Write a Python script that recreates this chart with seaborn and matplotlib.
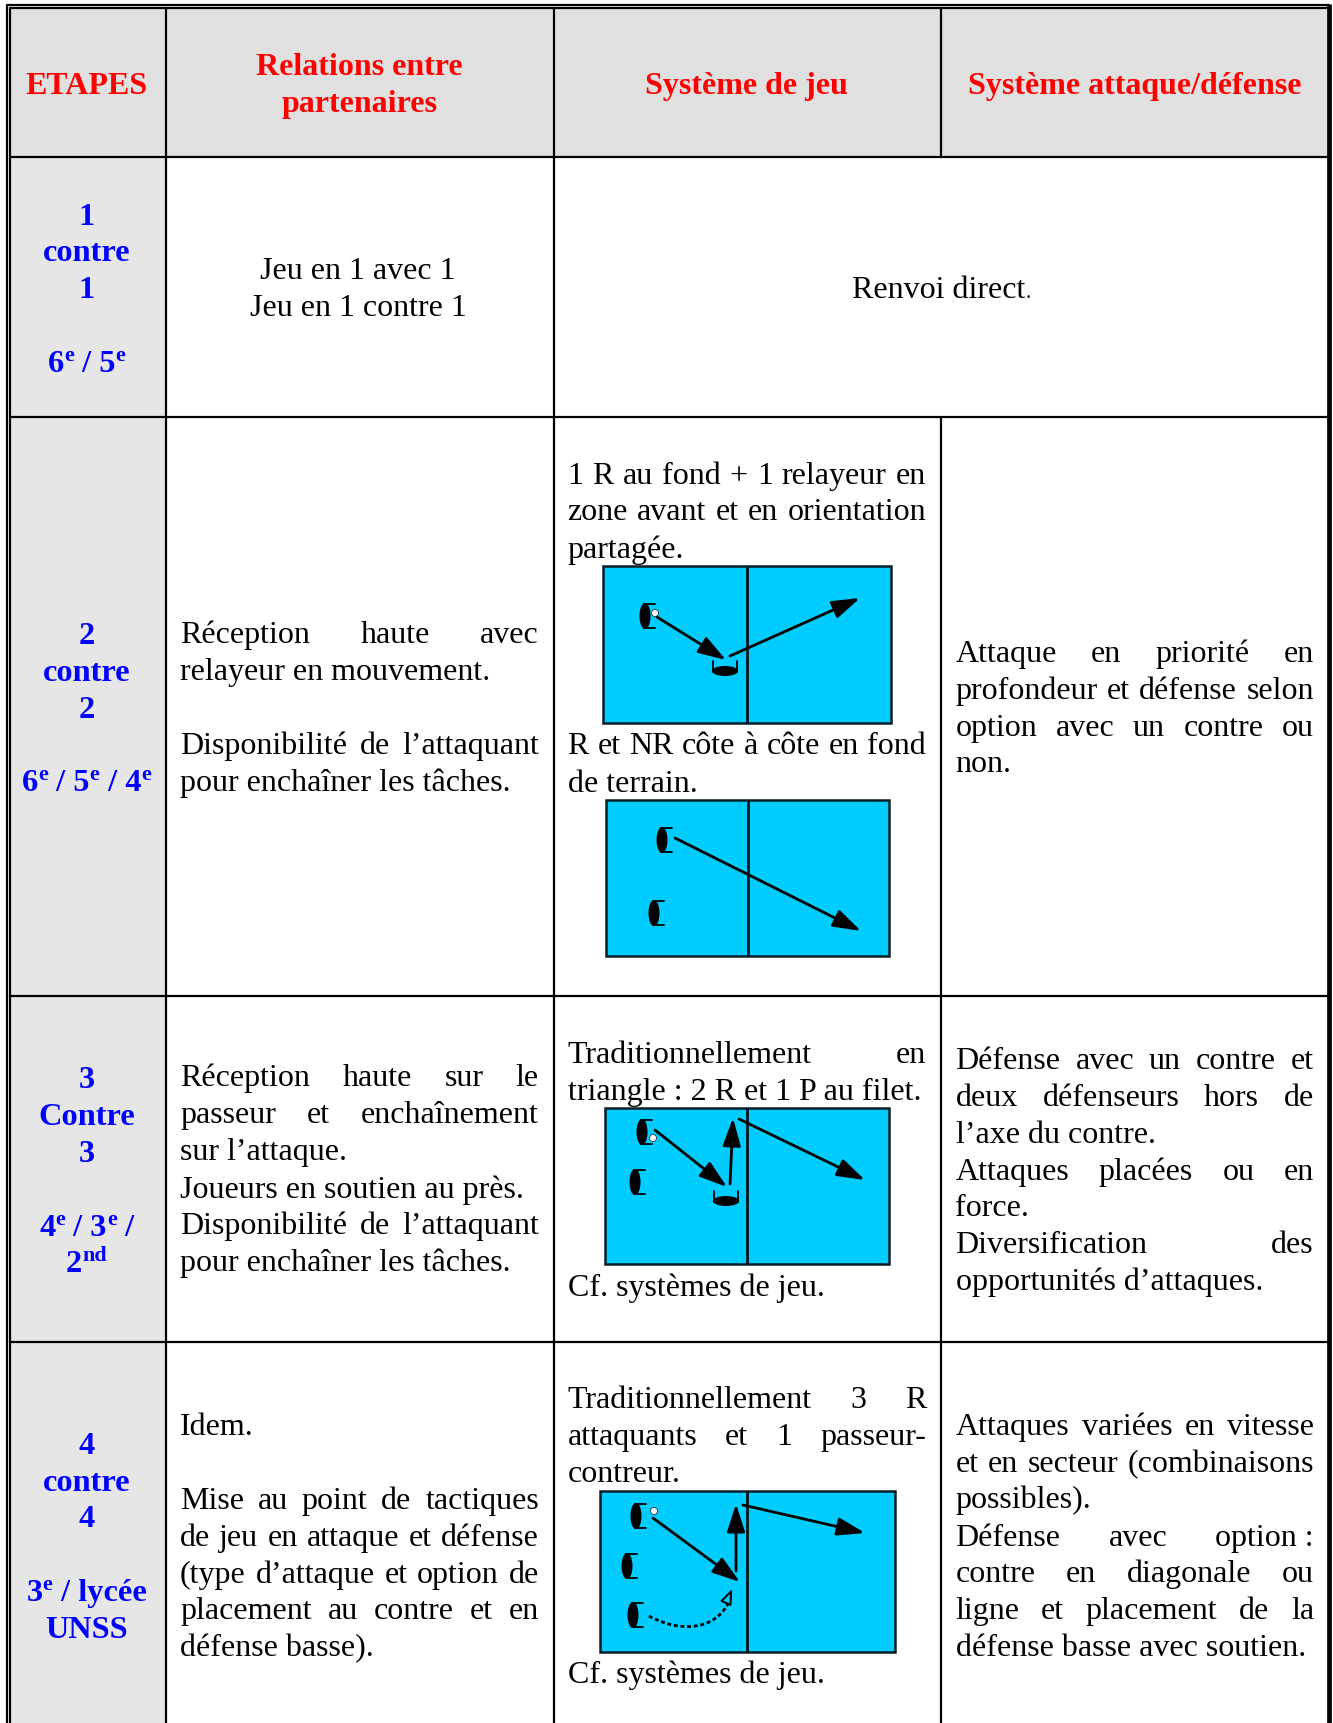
import matplotlib
matplotlib.use("Agg")
import matplotlib.pyplot as plt
from matplotlib.patches import Rectangle, Ellipse, FancyArrowPatch, PathPatch
from matplotlib.path import Path
import pandas as pd
import seaborn as sns

sns.set_theme(style="white")
plt.rcParams["font.family"] = ["Liberation Serif", "DejaVu Serif"]

W, H = 1333, 1724

# ---- table texts ----
HEADERS = ["ETAPES", "Relations entre", "partenaires", "Système de jeu", "Système attaque/défense"]
ROW_1_STAGE = ["1", "contre", "1"]
ROW_2_STAGE = ["2", "contre", "2"]
ROW_3_STAGE = ["3", "Contre", "3"]
ROW_4_STAGE = ["4", "contre", "4"]
ROW_4_STAGE_EXTRA = "UNSS"
LEVEL_1 = [("6", "e"), (" / 5", "e")]
LEVEL_2 = [("6", "e"), (" / 5", "e"), (" / 4", "e")]
LEVEL_3A = [("4", "e"), (" / 3", "e"), (" /", "")]
LEVEL_3B = [("2", "nd")]
LEVEL_4 = [("3", "e"), (" / lycée", "")]
REL_1 = ["Jeu en 1 avec 1", "Jeu en 1 contre 1"]
REL_2 = [("Réception haute avec", True), ("relayeur en mouvement.", False),
         ("Disponibilité de l’attaquant", True), ("pour enchaîner les tâches.", False)]
REL_3 = [("Réception haute sur le", True), ("passeur et enchaînement", True),
         ("sur l’attaque.", False), ("Joueurs en soutien au près.", False),
         ("Disponibilité de l’attaquant", True), ("pour enchaîner les tâches.", False)]
REL_4 = [("Idem.", False), ("Mise au point de tactiques", True),
         ("de jeu en attaque et défense", True), ("(type d’attaque et option de", True),
         ("placement au contre et en", True), ("défense basse).", False)]
SYS_SPAN = "Renvoi direct"
SYS_2A = [("1 R au fond + 1 relayeur en", True), ("zone avant et en orientation", True), ("partagée.", False)]
SYS_2B = [("R et NR côte à côte en fond", True), ("de terrain.", False)]
SYS_3 = [("Traditionnellement en", True), ("triangle : 2 R et 1 P au filet.", False), ("Cf. systèmes de jeu.", False)]
SYS_4 = [("Traditionnellement 3 R", True), ("attaquants et 1 passeur-", True),
         ("contreur.", False), ("Cf. systèmes de jeu.", False)]
ATT_2 = [("Attaque en priorité en", True), ("profondeur et défense selon", True),
         ("option avec un contre ou", True), ("non.", False)]
ATT_3 = [("Défense avec un contre et", True), ("deux défenseurs hors de", True),
         ("l’axe du contre.", False), ("Attaques placées ou en", True), ("force.", False),
         ("Diversification des", True), ("opportunités d’attaques.", False)]
ATT_4 = [("Attaques variées en vitesse", True), ("et en secteur (combinaisons", True),
         ("possibles).", False), ("Défense avec option\u00a0:", True),
         ("contre en diagonale ou", True), ("ligne et placement de la", True),
         ("défense basse avec soutien.", False)]

# ---- court diagrams, in picture pixels ----
COURTS = [(603, 567, 891, 724, 747), (606, 801, 889, 957, 748),
          (605, 1109, 889, 1265, 747), (600, 1492, 895, 1653, 747)]
PLAYERS = [(645, 617, "r"), (725, 672, "u"), (662, 841, "r"), (654, 914, "r"),
           (642, 1133, "r"), (635, 1183, "r"), (726, 1202, "u"),
           (636, 1517, "r"), (627, 1567, "r"), (633, 1616, "r")]
BALLS = [(655, 614), (653, 1139), (654, 1512)]
ARROWS = [(657, 618, 726, 661), (730, 657, 860, 599), (675, 839, 861, 932),
          (655, 1131, 727, 1188), (730, 1185, 733, 1119), (739, 1120, 865, 1181),
          (653, 1519, 740, 1583), (736, 1572, 736, 1505), (743, 1506, 865, 1534)]
DOTTED_X = [649, 685, 722, 731]
DOTTED_Y = [1617, 1637, 1628, 1597]

# ---- table geometry ----
COL_X = [166, 554, 941]
ROW_Y = [157.5, 417.5, 996.5, 1342.5]
LEFT_OUT, LEFT_IN, RIGHT_IN, TOP_OUT, TOP_IN = 6.5, 9.5, 1329, 6, 9

fig = plt.figure(figsize=(W / 100, H / 100), dpi=100)
ax = fig.add_axes([0, 0, 1, 1])
ax.set_xlim(0, W)
ax.set_ylim(H, 0)
ax.axis("off")

ax.add_patch(Rectangle((LEFT_IN, TOP_IN), COL_X[0] - LEFT_IN, H, fc="#E6E6E6", ec="none", zorder=0))
ax.add_patch(Rectangle((LEFT_IN, TOP_IN), RIGHT_IN - LEFT_IN, ROW_Y[0] - TOP_IN, fc="#E0E0E0", ec="none", zorder=0))

rules = [(LEFT_OUT, TOP_OUT, LEFT_OUT, H), (LEFT_IN, TOP_IN, LEFT_IN, H),
         (LEFT_OUT, TOP_OUT, RIGHT_IN, TOP_OUT), (LEFT_IN, TOP_IN, RIGHT_IN, TOP_IN),
         (COL_X[0], TOP_IN, COL_X[0], H), (COL_X[1], TOP_IN, COL_X[1], H),
         (COL_X[2], TOP_IN, COL_X[2], ROW_Y[0]), (COL_X[2], ROW_Y[1], COL_X[2], H)]
for yy in ROW_Y:
    rules.append((LEFT_IN, yy, RIGHT_IN, yy))
frame = pd.DataFrame(
    [{"x": a, "y": b, "rule": i} for i, r in enumerate(rules) for a, b in (r[:2], r[2:])]
)
sns.lineplot(data=frame, x="x", y="y", units="rule", estimator=None, sort=False,
             color="black", lw=1.6, ax=ax, legend=False, zorder=2)
ax.plot([RIGHT_IN, RIGHT_IN], [TOP_IN - 4, H], color="black", lw=3.4, zorder=2, solid_capstyle="butt")
ax.set_xlim(0, W)
ax.set_ylim(H, 0)
ax.axis("off")

renderer = fig.canvas.get_renderer()
BODY = 23
BOLD = 23.3


def width(s, size, weight="normal"):
    t = ax.text(0, 0, s, fontsize=size, fontweight=weight)
    w = t.get_window_extent(renderer).width
    t.remove()
    return w


def centred(s, x, y, color="black", weight="normal", size=BODY):
    ax.text(x, y, s, ha="center", va="baseline", color=color, fontweight=weight, fontsize=size, zorder=5)


def line(s, justified, x0, x1, y):
    if not justified:
        ax.text(x0, y, s, ha="left", va="baseline", color="black", fontsize=BODY, zorder=5)
        return
    words = s.split(" ")
    total = sum(width(w, BODY) for w in words)
    gap = (x1 - x0 - total) / (len(words) - 1)
    x = x0
    for w in words:
        ax.text(x, y, w, ha="left", va="baseline", color="black", fontsize=BODY, zorder=5)
        x += width(w, BODY) + gap


def block(lines, ys, x0, x1):
    for (s, j), y in zip(lines, ys):
        line(s, j, x0, x1, y)


def level(runs, xc, y):
    sup = BOLD * 0.68
    total = 0
    for a, b in runs:
        total += width("|" + a + "|", BOLD, "bold") - width("||", BOLD, "bold")
        if b:
            total += width(b, sup, "bold")
    x = xc - total / 2
    for a, b in runs:
        ax.text(x, y, a, ha="left", va="baseline", color="#0000FF", fontweight="bold", fontsize=BOLD, zorder=5)
        x += width("|" + a + "|", BOLD, "bold") - width("||", BOLD, "bold")
        if b:
            ax.text(x, y - 11, b, ha="left", va="baseline", color="#0000FF", fontweight="bold", fontsize=sup, zorder=5)
            x += width(b, sup, "bold")


# headers
RED = "#FF0000"
BLUE = "#0000FF"
centred(HEADERS[0], 86.5, 94, RED, "bold")
centred(HEADERS[1], 359.5, 75, RED, "bold", 23)
centred(HEADERS[2], 359.5, 112, RED, "bold", 23)
centred(HEADERS[3], 746.5, 94, RED, "bold", 23)
centred(HEADERS[4], 1134.5, 94, RED, "bold", 23)

# stage column
SX = 86.5
for s, y in zip(ROW_1_STAGE, (225, 261, 298)):
    centred(s, SX, y, BLUE, "bold", BOLD)
level(LEVEL_1, SX, 372)
for s, y in zip(ROW_2_STAGE, (644, 681, 718)):
    centred(s, SX, y, BLUE, "bold", BOLD)
level(LEVEL_2, SX, 791)
for s, y in zip(ROW_3_STAGE, (1088, 1125, 1162)):
    centred(s, SX, y, BLUE, "bold", BOLD)
level(LEVEL_3A, SX, 1236)
level(LEVEL_3B, SX, 1272)
for s, y in zip(ROW_4_STAGE, (1454, 1491, 1527)):
    centred(s, SX, y, BLUE, "bold", BOLD)
level(LEVEL_4, SX, 1601)
centred(ROW_4_STAGE_EXTRA, SX, 1638, BLUE, "bold", BOLD)

# relation column
centred(REL_1[0], 358, 279)
centred(REL_1[1], 358, 316)
block(REL_2, (643, 680, 754, 791), 180, 539)
block(REL_3, (1086.5, 1123.5, 1160.5, 1198, 1234.5, 1271.5), 180, 539)
block(REL_4, (1435, 1509, 1546, 1583, 1619, 1656), 180, 539)

# system column
span_w = width(SYS_SPAN, BODY)
centred(SYS_SPAN, 939, 298)
ax.text(939 + span_w / 2, 298, ".", ha="left", va="baseline", color="black", fontsize=15, zorder=5)
block(SYS_2A, (484, 520, 558), 567.5, 926)
block(SYS_2B, (754, 792), 567.5, 926)
block(SYS_3, (1063, 1100, 1296), 567.5, 926)
block(SYS_4, (1408, 1445, 1482, 1683), 567.5, 926)

# attack / defence column
block(ATT_2, (662, 699, 736, 772), 955.5, 1314)
block(ATT_3, (1069, 1106, 1143.5, 1180.5, 1216.5, 1253, 1290), 955.5, 1314)
block(ATT_4, (1435, 1472, 1508, 1546, 1582, 1619, 1656), 955.5, 1314)

# courts
COURT = "#00CCFF"
for x0, y0, x1, y1, net in COURTS:
    ax.add_patch(Rectangle((x0 - 0.5, y0), x1 - x0, y1 - y0, fc=COURT, ec="#0A1E26", lw=1.8, zorder=3))
    ax.plot([net - 0.5, net - 0.5], [y0, y1], color="#05141A", lw=2.0, zorder=4, solid_capstyle="butt")

for x, y, o in PLAYERS:
    if o == "r":
        ax.add_patch(Ellipse((x, y), 11, 26, fc="black", ec="none", zorder=5))
        ax.plot([x + 10, x - 1], [y - 12, y - 12], color="black", lw=1.3, zorder=5)
        ax.plot([x + 10, x - 1], [y + 12, y + 12], color="black", lw=1.3, zorder=5)
    else:
        ax.add_patch(Ellipse((x, y), 26, 10, fc="black", ec="none", zorder=5))
        ax.plot([x - 12, x - 12], [y - 10, y + 1], color="black", lw=1.3, zorder=5)
        ax.plot([x + 12, x + 12], [y - 10, y + 1], color="black", lw=1.3, zorder=5)

for x0, y0, x1, y1 in ARROWS:
    ax.add_patch(FancyArrowPatch((x0, y0), (x1, y1), arrowstyle="-|>,head_length=17,head_width=5.5",
                                 mutation_scale=1, shrinkA=0, shrinkB=0, color="black", lw=2.0, zorder=6))

curve = Path(list(zip(DOTTED_X, DOTTED_Y)), [Path.MOVETO, Path.CURVE4, Path.CURVE4, Path.CURVE4])
ax.add_patch(PathPatch(curve, fc="none", ec="black", lw=2.0, ls=(0, (1.4, 1.0)), zorder=6))
ax.add_patch(FancyArrowPatch((726, 1604), (732, 1590), arrowstyle="-|>,head_length=9,head_width=3.5",
                             mutation_scale=1, shrinkA=0, shrinkB=0, ec="black", fc=COURT, lw=1.4, zorder=6))

for x, y in BALLS:
    ax.add_patch(Ellipse((x, y), 7, 7, fc="white", ec="#333333", lw=0.6, zorder=7))

fig.savefig("out.png", dpi=100, facecolor="white")
